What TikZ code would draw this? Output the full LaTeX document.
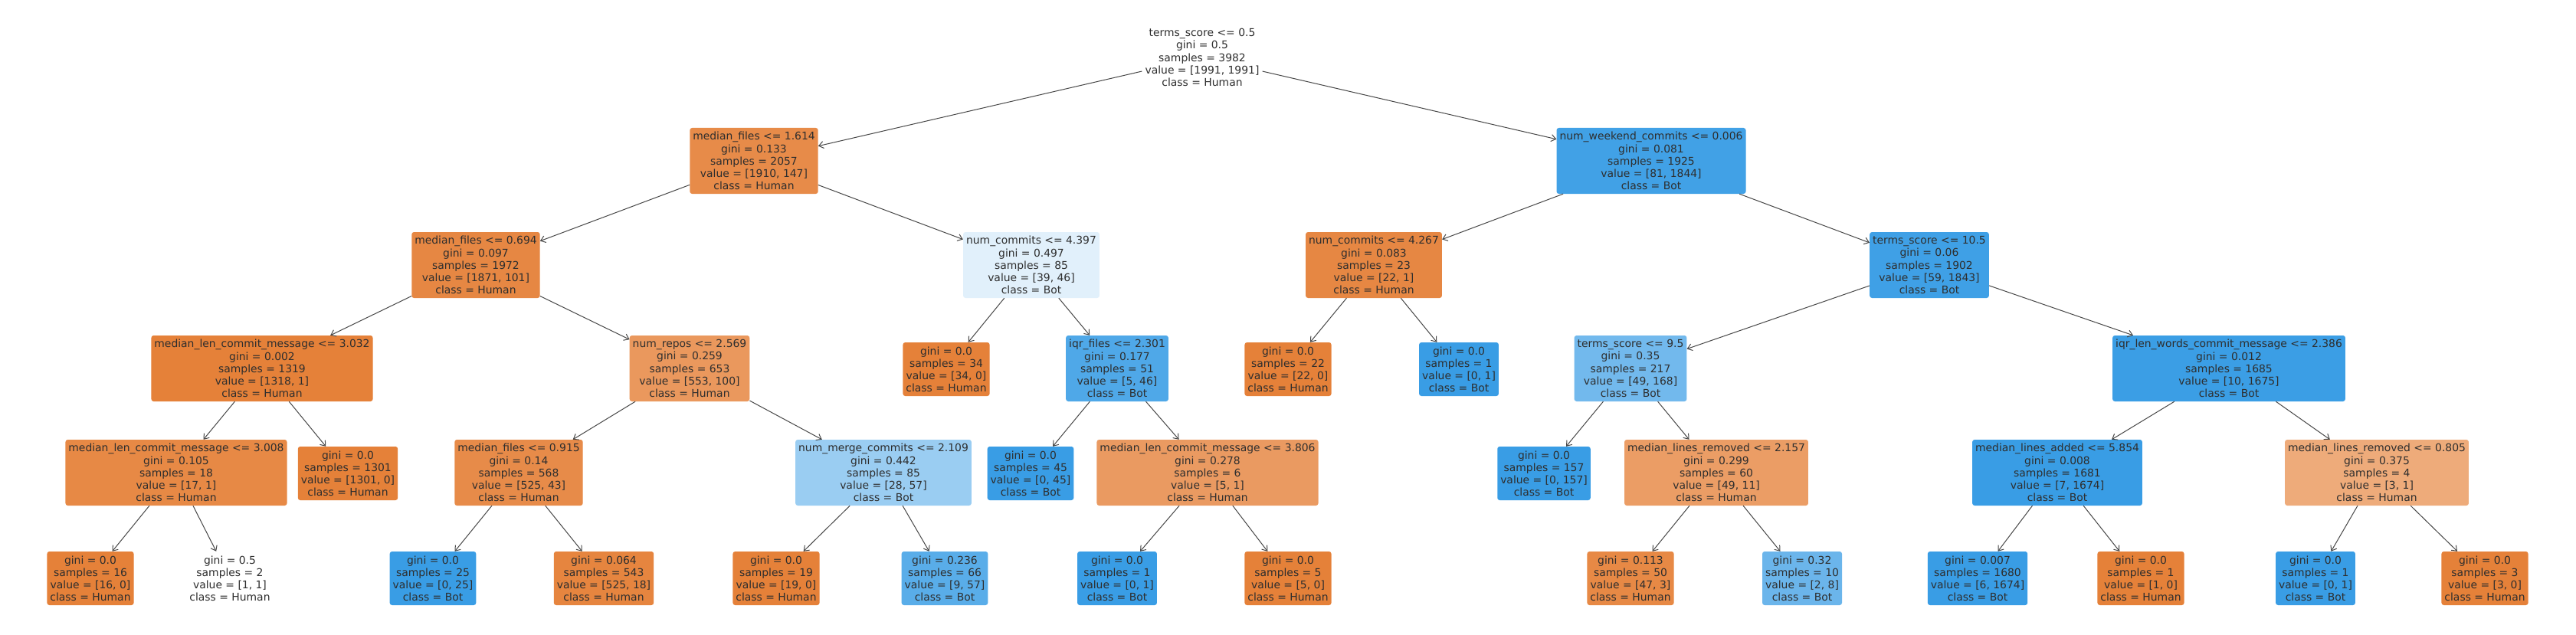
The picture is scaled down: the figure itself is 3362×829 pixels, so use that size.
\documentclass[tikz,border=0pt]{standalone}
\usepackage{fontspec}
\setmainfont{DejaVu Sans}
\usetikzlibrary{arrows.meta}
\definecolor{hum}{RGB}{229,129,57}
\definecolor{bot}{RGB}{57,157,229}
\newcommand\treefont{\fontsize{13.9}{16.1}\selectfont}
\tikzset{
  tn/.style={rectangle, rounded corners=3pt, align=center, inner xsep=4pt, inner ysep=3pt, font=\treefont, text=black!82, minimum height=86pt},
  lf/.style={tn, minimum height=70pt},
  ed/.style={draw=black!72, line width=1pt, -{Straight Barb[length=6pt,width=9pt]}}
}
\begin{document}
\begin{tikzpicture}[x=1pt,y=-1pt]
\useasboundingbox (0,0) rectangle (3362,829);
\fill[white] (0,0) rectangle (3362,829);
% level 0
\node[tn, fill=white] (n0) at (1569,75) {terms\_score <= 0.5\\gini = 0.5\\samples = 3982\\value = [1991, 1991]\\class = Human};
% level 1
\node[tn, fill=hum!92!white] (n1) at (984,210) {median\_files <= 1.614\\gini = 0.133\\samples = 2057\\value = [1910, 147]\\class = Human};
\node[tn, fill=bot!96!white] (n2) at (2155,210) {num\_weekend\_commits <= 0.006\\gini = 0.081\\samples = 1925\\value = [81, 1844]\\class = Bot};
% level 2
\node[tn, fill=hum!95!white] (n3) at (621,346) {median\_files <= 0.694\\gini = 0.097\\samples = 1972\\value = [1871, 101]\\class = Human};
\node[tn, fill=bot!15!white] (n4) at (1346,346) {num\_commits <= 4.397\\gini = 0.497\\samples = 85\\value = [39, 46]\\class = Bot};
\node[tn, fill=hum!95!white] (n5) at (1793,346) {num\_commits <= 4.267\\gini = 0.083\\samples = 23\\value = [22, 1]\\class = Human};
\node[tn, fill=bot!97!white] (n6) at (2518,346) {terms\_score <= 10.5\\gini = 0.06\\samples = 1902\\value = [59, 1843]\\class = Bot};
% level 3
\node[tn, fill=hum] (n7) at (342,481) {median\_len\_commit\_message <= 3.032\\gini = 0.002\\samples = 1319\\value = [1318, 1]\\class = Human};
\node[tn, fill=hum!82!white] (n8) at (900,481) {num\_repos <= 2.569\\gini = 0.259\\samples = 653\\value = [553, 100]\\class = Human};
\node[lf, fill=hum] (n9) at (1235,482) {gini = 0.0\\samples = 34\\value = [34, 0]\\class = Human};
\node[tn, fill=bot!89!white] (n10) at (1458,481) {iqr\_files <= 2.301\\gini = 0.177\\samples = 51\\value = [5, 46]\\class = Bot};
\node[lf, fill=hum] (n11) at (1681,482) {gini = 0.0\\samples = 22\\value = [22, 0]\\class = Human};
\node[lf, fill=bot] (n12) at (1904,482) {gini = 0.0\\samples = 1\\value = [0, 1]\\class = Bot};
\node[tn, fill=bot!71!white] (n13) at (2128,481) {terms\_score <= 9.5\\gini = 0.35\\samples = 217\\value = [49, 168]\\class = Bot};
\node[tn, fill=bot!99!white] (n14) at (2909,481) {iqr\_len\_words\_commit\_message <= 2.386\\gini = 0.012\\samples = 1685\\value = [10, 1675]\\class = Bot};
% level 4
\node[tn, fill=hum!94!white] (n15) at (230,617) {median\_len\_commit\_message <= 3.008\\gini = 0.105\\samples = 18\\value = [17, 1]\\class = Human};
\node[lf, fill=hum] (n16) at (454,618) {gini = 0.0\\samples = 1301\\value = [1301, 0]\\class = Human};
\node[tn, fill=hum!92!white] (n17) at (677,617) {median\_files <= 0.915\\gini = 0.14\\samples = 568\\value = [525, 43]\\class = Human};
\node[tn, fill=bot!51!white] (n18) at (1153,617) {num\_merge\_commits <= 2.109\\gini = 0.442\\samples = 85\\value = [28, 57]\\class = Bot};
\node[lf, fill=bot] (n19) at (1345,618) {gini = 0.0\\samples = 45\\value = [0, 45]\\class = Bot};
\node[tn, fill=hum!80!white] (n20) at (1576,617) {median\_len\_commit\_message <= 3.806\\gini = 0.278\\samples = 6\\value = [5, 1]\\class = Human};
\node[lf, fill=bot] (n21) at (2015,618) {gini = 0.0\\samples = 157\\value = [0, 157]\\class = Bot};
\node[tn, fill=hum!78!white] (n22) at (2240,617) {median\_lines\_removed <= 2.157\\gini = 0.299\\samples = 60\\value = [49, 11]\\class = Human};
\node[tn, fill=bot] (n23) at (2685,617) {median\_lines\_added <= 5.854\\gini = 0.008\\samples = 1681\\value = [7, 1674]\\class = Bot};
\node[tn, fill=hum!67!white] (n24) at (3102,617) {median\_lines\_removed <= 0.805\\gini = 0.375\\samples = 4\\value = [3, 1]\\class = Human};
% level 5
\node[lf, fill=hum] (n25) at (118,755) {gini = 0.0\\samples = 16\\value = [16, 0]\\class = Human};
\node[lf, fill=white] (n26) at (300,755) {gini = 0.5\\samples = 2\\value = [1, 1]\\class = Human};
\node[lf, fill=bot] (n27) at (565,755) {gini = 0.0\\samples = 25\\value = [0, 25]\\class = Bot};
\node[lf, fill=hum!97!white] (n28) at (788,755) {gini = 0.064\\samples = 543\\value = [525, 18]\\class = Human};
\node[lf, fill=hum] (n29) at (1013,755) {gini = 0.0\\samples = 19\\value = [19, 0]\\class = Human};
\node[lf, fill=bot!84!white] (n30) at (1233,755) {gini = 0.236\\samples = 66\\value = [9, 57]\\class = Bot};
\node[lf, fill=bot] (n31) at (1458,755) {gini = 0.0\\samples = 1\\value = [0, 1]\\class = Bot};
\node[lf, fill=hum] (n32) at (1681,755) {gini = 0.0\\samples = 5\\value = [5, 0]\\class = Human};
\node[lf, fill=hum!94!white] (n33) at (2128,755) {gini = 0.113\\samples = 50\\value = [47, 3]\\class = Human};
\node[lf, fill=bot!75!white] (n34) at (2352,755) {gini = 0.32\\samples = 10\\value = [2, 8]\\class = Bot};
\node[lf, fill=bot] (n35) at (2581,755) {gini = 0.007\\samples = 1680\\value = [6, 1674]\\class = Bot};
\node[lf, fill=hum] (n36) at (2794,755) {gini = 0.0\\samples = 1\\value = [1, 0]\\class = Human};
\node[lf, fill=bot] (n37) at (3022,755) {gini = 0.0\\samples = 1\\value = [0, 1]\\class = Bot};
\node[lf, fill=hum] (n38) at (3243,755) {gini = 0.0\\samples = 3\\value = [3, 0]\\class = Human};
% edges
\foreach \p/\c in {n0/n1,n0/n2,n1/n3,n1/n4,n2/n5,n2/n6,n3/n7,n3/n8,n4/n9,n4/n10,n5/n11,n5/n12,n6/n13,n6/n14,n7/n15,n7/n16,n8/n17,n8/n18,n10/n19,n10/n20,n13/n21,n13/n22,n14/n23,n14/n24,n15/n25,n15/n26,n17/n27,n17/n28,n18/n29,n18/n30,n20/n31,n20/n32,n22/n33,n22/n34,n23/n35,n23/n36,n24/n37,n24/n38}
  \draw[ed] (\p) -- (\c);
\end{tikzpicture}
\end{document}
